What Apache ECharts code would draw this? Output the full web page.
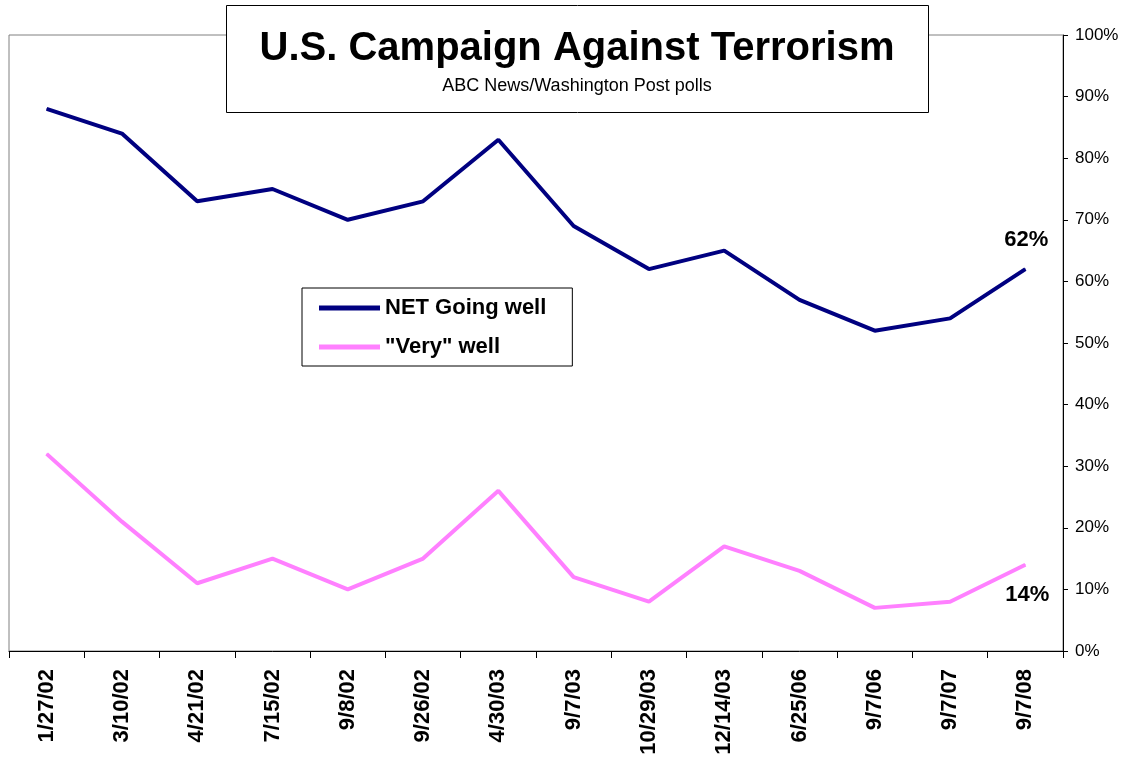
<!DOCTYPE html>
<html>
<head>
<meta charset="utf-8">
<script src="https://cdn.jsdelivr.net/npm/echarts@6/dist/echarts.min.js"></script>
<style>
html,body{margin:0;padding:0;background:#fff;}
#c{width:1136px;height:760px;}
</style>
</head>
<body>
<div id="c"></div>
<script>
const categories = ['1/27/02','3/10/02','4/21/02','7/15/02','9/8/02','9/26/02','4/30/03','9/7/03','10/29/03','12/14/03','6/25/06','9/7/06','9/7/07','9/7/08'];
const netGoingWell = [88,84,73,75,70,73,83,69,62,65,57,52,54,62];
const veryWell = [32,21,11,15,10,15,26,12,8,17,13,7,8,14];
const yTicks = [0,10,20,30,40,50,60,70,80,90,100];

const FONT = 'Arial, "Liberation Sans", sans-serif';

function lastLabel(arr, pos, off){
  return arr.map((v,i)=> i===arr.length-1 ? {value:v, label:{show:true, position:pos, offset:off, formatter:'{c}%', fontFamily:FONT, fontWeight:'bold', fontSize:22, color:'#000'}} : v);
}

const chart = echarts.init(document.getElementById('c'));
chart.setOption({
  animation:false,
  backgroundColor:'#fff',
  title:{
    text:'U.S. Campaign Against Terrorism',
    subtext:'ABC News/Washington Post polls',
    left:577, top:29, textAlign:'center',
    itemGap:8,
    textStyle:{fontFamily:FONT, fontWeight:'bold', fontSize:40, color:'#000'},
    subtextStyle:{fontFamily:FONT, fontSize:18, color:'#000'},
    padding:0, z:10
  },
  graphic:[{
    type:'rect', z:9, silent:true,
    shape:{x:226.5, y:5.5, width:702, height:107},
    style:{fill:'#fff', stroke:'#000', lineWidth:1}
  }],
  legend:{
    show:true,
    orient:'vertical',
    left:302, top:288,
    padding:[9,26,8,17],
    itemGap:17,
    icon:'rect',
    itemWidth:61, itemHeight:5,
    borderColor:'#000', borderWidth:1,
    backgroundColor:'#fff',
    textStyle:{fontFamily:FONT, fontWeight:'bold', fontSize:22, color:'#000'},
    data:['NET Going well','"Very" well']
  },
  grid:{
    show:true, left:9, right:73, top:35, bottom:109,
    borderColor:'#808080', borderWidth:1, backgroundColor:'#fff'
  },
  xAxis:{
    type:'category', data:categories, boundaryGap:true,
    axisLine:{show:true, lineStyle:{color:'#000', width:1}},
    axisTick:{show:true, length:7, alignWithLabel:false, lineStyle:{color:'#000'}},
    axisLabel:{rotate:90, margin:18, fontFamily:FONT, fontWeight:'bold', fontSize:22, color:'#000', interval:0},
    splitLine:{show:false}
  },
  yAxis:{
    type:'value', position:'right', min:yTicks[0], max:yTicks[yTicks.length-1], interval:10,
    axisLine:{show:true, lineStyle:{color:'#000', width:1}},
    axisTick:{show:true, length:5, lineStyle:{color:'#000'}},
    axisLabel:{formatter:'{value}%', margin:12, fontFamily:FONT, fontSize:17, color:'#000'},
    splitLine:{show:false}
  },
  series:[
    {
      name:'NET Going well', type:'line', data:lastLabel(netGoingWell,'top',[1,-13]),
      symbol:'circle', symbolSize:1, showSymbol:true,
      lineStyle:{color:'#000080', width:4}, itemStyle:{color:'#000080'}
    },
    {
      name:'"Very" well', type:'line', data:lastLabel(veryWell,'bottom',[2,14]),
      symbol:'circle', symbolSize:1, showSymbol:true,
      lineStyle:{color:'#FF80FF', width:4}, itemStyle:{color:'#FF80FF'}
    }
  ]
});
</script>
</body>
</html>
